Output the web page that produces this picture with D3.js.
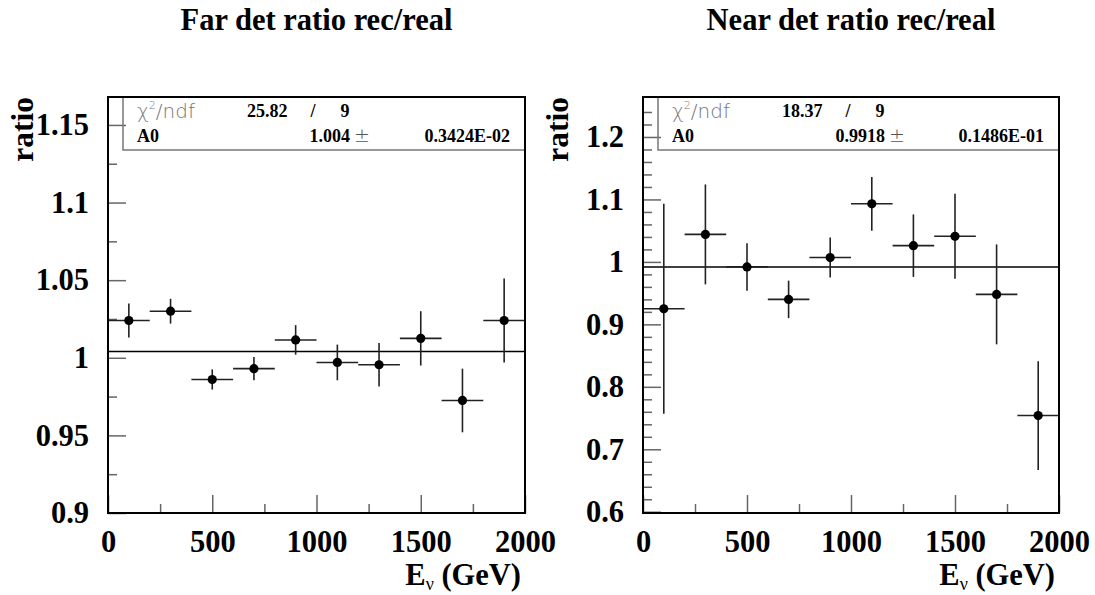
<!DOCTYPE html>
<html>
<head>
<meta charset="utf-8">
<script src="https://cdn.jsdelivr.net/npm/d3@7"></script>
<style>
  html, body { margin: 0; padding: 0; background: #fff; }
  svg { display: block; }
</style>
</head>
<body>
<svg id="chart" width="1095" height="595"></svg>
<script>
// ---------------- data ----------------
const energies   = [100, 300, 500, 700, 900, 1100, 1300, 1500, 1700, 1900];
const binWidth   = 200;

const farRatio   = [1.024, 1.030, 0.986, 0.993, 1.0115, 0.997, 0.9955, 1.0125, 0.9725, 1.024];
const farErr     = [0.011, 0.008, 0.0065, 0.0075, 0.0095, 0.0115, 0.014, 0.0175, 0.0205, 0.027];
const nearRatio  = [0.925, 1.044, 0.992, 0.940, 1.007, 1.093, 1.026, 1.041, 0.948, 0.754];
const nearErr    = [0.168, 0.080, 0.038, 0.030, 0.032, 0.043, 0.050, 0.068, 0.080, 0.087];

const farFit     = { chi2: "25.82", ndf: "9", a0: 1.004,  a0Text: "1.004",  err: "0.3424E-02" };
const nearFit    = { chi2: "18.37", ndf: "9", a0: 0.9918, a0Text: "0.9918", err: "0.1486E-01" };

const xTicks      = [0, 500, 1000, 1500, 2000];
const xMinorTicks = [250, 750, 1250, 1750];
const farYTicks   = [0.9, 0.95, 1.0, 1.05, 1.1, 1.15];
const farYLabels  = ["0.9", "0.95", "1", "1.05", "1.1", "1.15"];
const farYMinor   = [0.925, 0.975, 1.025, 1.075, 1.125];
const nearYTicks  = [0.6, 0.7, 0.8, 0.9, 1.0, 1.1, 1.2];
const nearYLabels = ["0.6", "0.7", "0.8", "0.9", "1", "1.1", "1.2"];
const nearYMinor  = [0.62,0.64,0.66,0.68,0.72,0.74,0.76,0.78,0.82,0.84,0.86,0.88,0.92,0.94,0.96,0.98,
                     1.02,1.04,1.06,1.08,1.12,1.14,1.16,1.18,1.22,1.24];

// ---------------- drawing ----------------
const svg = d3.select("#chart");
const SERIF = "'Liberation Serif','Times New Roman',Times,serif";
const SANS  = "'DejaVu Sans','Liberation Sans',sans-serif";

function panel(opts) {
  const { left, right, top, bottom, title, yDomain, yTicks, yLabels, yMinor, ratio, err, fit } = opts;
  const g = svg.append("g");
  const x = d3.scaleLinear().domain([0, 2000]).range([left, right]);
  const y = d3.scaleLinear().domain(yDomain).range([bottom, top]);

  // title
  g.append("text").attr("x", (left + right) / 2).attr("y", 30)
    .attr("text-anchor", "middle").attr("font-family", SERIF).attr("font-weight", "bold")
    .attr("font-size", 30.5).text(title);

  // y axis major / minor ticks (inside)
  const yMaj = g.append("g").attr("transform", `translate(${left},0)`)
    .call(d3.axisLeft(y).tickValues(yTicks).tickSize(-18).tickPadding(19)
      .tickFormat((d, i) => yLabels[i]));
  const yMin = g.append("g").attr("transform", `translate(${left},0)`)
    .call(d3.axisLeft(y).tickValues(yMinor).tickSize(-9).tickFormat(""));
  // x axis major / minor ticks (inside)
  const xMaj = g.append("g").attr("transform", `translate(0,${bottom})`)
    .call(d3.axisBottom(x).tickValues(xTicks).tickSize(-18).tickPadding(18)
      .tickFormat(d3.format("d")));
  const xMin = g.append("g").attr("transform", `translate(0,${bottom})`)
    .call(d3.axisBottom(x).tickValues(xMinorTicks).tickSize(-9).tickFormat(""));

  [yMaj, yMin, xMaj, xMin].forEach(a => {
    a.select(".domain").remove();
    a.selectAll(".tick line").attr("stroke", "#666").attr("stroke-width", 1.5);
    a.selectAll(".tick text").attr("font-family", SERIF).attr("font-weight", "bold")
      .attr("font-size", 30.5).attr("fill", "#000");
  });
  xMaj.selectAll(".tick text").attr("dy", "0.7em");

  // axis titles
  g.append("text")
    .attr("transform", `translate(${left - 75},${top}) rotate(-90)`)
    .attr("text-anchor", "end").attr("font-family", SERIF).attr("font-weight", "bold")
    .attr("font-size", 31.5).text("ratio");

  const xt = g.append("text").attr("x", right - 4).attr("y", 585)
    .attr("text-anchor", "end").attr("font-family", SERIF).attr("font-weight", "bold")
    .attr("font-size", 30.5);
  xt.append("tspan").text("E");
  xt.append("tspan").attr("font-size", 18).attr("font-weight", "normal").attr("dy", 5).text("\u03BD");
  xt.append("tspan").attr("dy", -5).text(" (GeV)");

  // fit line
  g.append("line").attr("x1", left).attr("x2", right)
    .attr("y1", y(fit.a0)).attr("y2", y(fit.a0))
    .attr("stroke", "#000").attr("stroke-width", 1.6);

  // data: error bars and markers
  const pts = energies.map((e, i) => ({ e, v: ratio[i], s: err[i] }));
  const pg = g.append("g");
  pg.selectAll("line.h").data(pts).join("line").attr("class", "h")
    .attr("x1", d => x(d.e - binWidth / 2)).attr("x2", d => x(d.e + binWidth / 2))
    .attr("y1", d => y(d.v)).attr("y2", d => y(d.v))
    .attr("stroke", "#222").attr("stroke-width", 1.6);
  pg.selectAll("line.v").data(pts).join("line").attr("class", "v")
    .attr("x1", d => x(d.e)).attr("x2", d => x(d.e))
    .attr("y1", d => y(d.v - d.s)).attr("y2", d => y(d.v + d.s))
    .attr("stroke", "#222").attr("stroke-width", 1.6);
  pg.selectAll("circle").data(pts).join("circle")
    .attr("cx", d => x(d.e)).attr("cy", d => y(d.v)).attr("r", 4.6).attr("fill", "#000");

  // stats box
  const bx = left + 15, by2 = top + 53;
  g.append("path")
    .attr("d", `M${bx},${top} V${by2} H${right}`)
    .attr("fill", "none").attr("stroke", "#777").attr("stroke-width", 1.5);

  const chi = g.append("text").attr("x", left + 29).attr("y", top + 21)
    .attr("font-family", SANS).attr("font-weight", 200).attr("font-size", 20).attr("fill", "#777");
  chi.append("tspan").text("\u03C7");
  chi.append("tspan").attr("font-size", 11).attr("dy", -9).text("2");
  chi.append("tspan").attr("dy", 9).text("/ndf");

  const bold = (tx, ty, s, anchor) => g.append("text").attr("x", tx).attr("y", ty)
    .attr("text-anchor", anchor || "start").attr("font-family", SERIF)
    .attr("font-weight", "bold").attr("font-size", 18).text(s);

  bold(left + 139, top + 20, fit.chi2);
  bold(left + 205, top + 20, "/", "middle");
  bold(left + 237, top + 20, fit.ndf, "middle");
  bold(left + 29, top + 45, "A0");
  bold(left + 242, top + 45, fit.a0Text, "end");
  g.append("text").attr("x", left + 246).attr("y", top + 45)
    .attr("font-family", SANS).attr("font-weight", 200).attr("font-size", 19).attr("fill", "#555")
    .text("\u00B1");
  bold(right - 15, top + 45, fit.err, "end");

  // frame
  g.append("rect").attr("x", left).attr("y", top)
    .attr("width", right - left).attr("height", bottom - top)
    .attr("fill", "none").attr("stroke", "#000").attr("stroke-width", 2);
}

panel({
  left: 108, right: 525, top: 97, bottom: 513,
  title: "Far det ratio rec/real",
  yDomain: [0.9, 1.168], yTicks: farYTicks, yLabels: farYLabels, yMinor: farYMinor,
  ratio: farRatio, err: farErr, fit: farFit
});
panel({
  left: 643, right: 1059, top: 97, bottom: 513,
  title: "Near det ratio rec/real",
  yDomain: [0.598, 1.264], yTicks: nearYTicks, yLabels: nearYLabels, yMinor: nearYMinor,
  ratio: nearRatio, err: nearErr, fit: nearFit
});
</script>
</body>
</html>
